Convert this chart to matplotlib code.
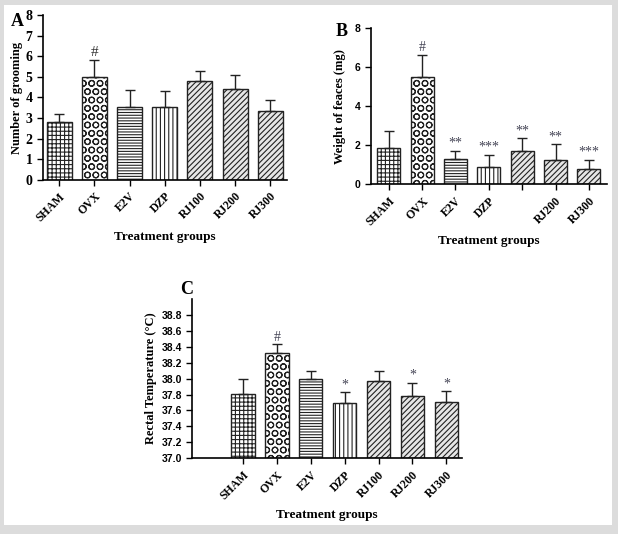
import numpy as np
import matplotlib
matplotlib.use('Agg')
import matplotlib.pyplot as plt
from matplotlib.patches import Rectangle

plt.rcParams['hatch.linewidth'] = 0.8

groups = ['SHAM', 'OVX', 'E2V', 'DZP', 'RJ100', 'RJ200', 'RJ300']
groupsB = ['SHAM', 'OVX', 'E2V', 'DZP', '', 'RJ200', 'RJ300']

# panel A: number of grooming
groomMean = [2.8, 5.0, 3.55, 3.55, 4.82, 4.42, 3.32]
groomTop = [3.22, 5.83, 4.38, 4.32, 5.3, 5.08, 3.87]
groomSig = ['', '#', '', '', '', '', '']

# panel B: weight of faeces
faecesMean = [1.85, 5.48, 1.27, 0.89, 1.68, 1.26, 0.76]
faecesTop = [2.74, 6.62, 1.73, 1.5, 2.36, 2.05, 1.25]
faecesSig = ['', '#', '**', '***', '**', '**', '***']

# panel C: rectal temperature
tempMean = [37.81, 38.32, 38.0, 37.69, 37.97, 37.78, 37.70]
tempTop = [38.0, 38.43, 38.1, 37.83, 38.1, 37.95, 37.84]
tempSig = ['', '#', '', '*', '', '*', '*']

hatches = ['++++', 'OO', '------', '||||', '//////', '//////', '//////']
faces = ['white', 'white', 'white', 'white', '#e6e6e6', '#e6e6e6', '#e6e6e6']
serif = 'Liberation Serif'
sans = 'Liberation Sans'


def draw_panel(ax, means, tops, sigs, labels, bottom, width, sigGap, sigSize, sigColor):
    x = np.arange(len(means))
    heights = np.array(means) - bottom
    for i in range(len(means)):
        ax.bar(x[i], heights[i], width, bottom=bottom, color=faces[i],
               edgecolor='#222222', hatch=hatches[i], linewidth=1.0, zorder=2)
    up = np.array(tops) - np.array(means)
    ax.errorbar(x, means, yerr=[np.zeros(len(means)), up], fmt='none',
                ecolor='#222222', elinewidth=1.0, capsize=3.5, capthick=1.0, zorder=3)
    for i, s in enumerate(sigs):
        if s:
            ax.text(x[i], tops[i] + sigGap, s, ha='center', va='bottom',
                    fontsize=sigSize, color=sigColor, family=serif)
    ax.spines['top'].set_visible(False)
    ax.spines['right'].set_visible(False)
    ax.spines['left'].set_linewidth(1.2)
    ax.spines['bottom'].set_linewidth(1.2)
    ax.set_xticks(x)
    ax.set_xticklabels(labels, rotation=45, ha='right', rotation_mode='anchor',
                       fontsize=8.5, fontweight='bold', family=serif)
    ax.tick_params(direction='out', length=4, width=1.0)
    ax.set_xlabel('Treatment groups', fontsize=9.5, fontweight='bold', family=serif,
                  labelpad=5)


fig = plt.figure(figsize=(6.18, 5.34), dpi=100)
fig.patch.set_facecolor('#dcdcdc')
bg = Rectangle((4 / 618, 9 / 534), 608 / 618, 520 / 534,
               transform=fig.transFigure, facecolor='white',
               edgecolor='none', zorder=-10)
fig.add_artist(bg)

# A
axA = fig.add_axes([0.0696, 0.663, 0.395, 0.309])
draw_panel(axA, groomMean, groomTop, groomSig, groups, 0, 0.71, 0.05, 11, '#333333')
axA.set_xlim(-0.46, 6.48)
axA.set_ylim(0, 8)
axA.set_yticks(range(0, 9))
for t in axA.get_yticklabels():
    t.set_fontfamily(serif)
    t.set_fontweight('bold')
    t.set_fontsize(10)
axA.set_ylabel('Number of grooming', fontsize=9, fontweight='bold', family=serif, labelpad=2)
fig.text(11 / 618, 1 - 22 / 534, 'A', fontsize=13, fontweight='bold', family=serif,
         va='center')

# B
axB = fig.add_axes([0.600, 0.655, 0.382, 0.292])
draw_panel(axB, faecesMean, faecesTop, faecesSig, groupsB, 0, 0.69, 0.05, 10, '#444455')
axB.set_xlim(-0.54, 6.54)
axB.set_ylim(0, 8)
axB.set_yticks([0, 2, 4, 6, 8])
for t in axB.get_yticklabels():
    t.set_fontfamily(sans)
    t.set_fontweight('bold')
    t.set_fontsize(7.5)
axB.set_ylabel('Weight of feaces (mg)', fontsize=9, fontweight='bold', family=serif, labelpad=6)
fig.text(336 / 618, 1 - 32 / 534, 'B', fontsize=13, fontweight='bold', family=serif,
         va='center')

# C
axC = fig.add_axes([0.311, 0.142, 0.437, 0.298])
draw_panel(axC, tempMean, tempTop, tempSig, groups, 37.0, 0.69, 0.01, 10, '#444455')
axC.set_xlim(-1.5, 6.47)
axC.set_ylim(37.0, 39.0)
axC.set_yticks(np.arange(37.0, 38.81, 0.2))
axC.set_yticklabels(['%.1f' % v for v in np.arange(37.0, 38.81, 0.2)])
for t in axC.get_yticklabels():
    t.set_fontfamily(sans)
    t.set_fontweight('bold')
    t.set_fontsize(7.5)
axC.set_ylabel('Rectal Temperature (°C)', fontsize=9, fontweight='bold', family=serif, labelpad=3)
fig.text(180 / 618, 1 - 289 / 534, 'C', fontsize=13, fontweight='bold', family=serif,
         va='center')

fig.savefig('out.png', dpi=100, facecolor=fig.get_facecolor())
